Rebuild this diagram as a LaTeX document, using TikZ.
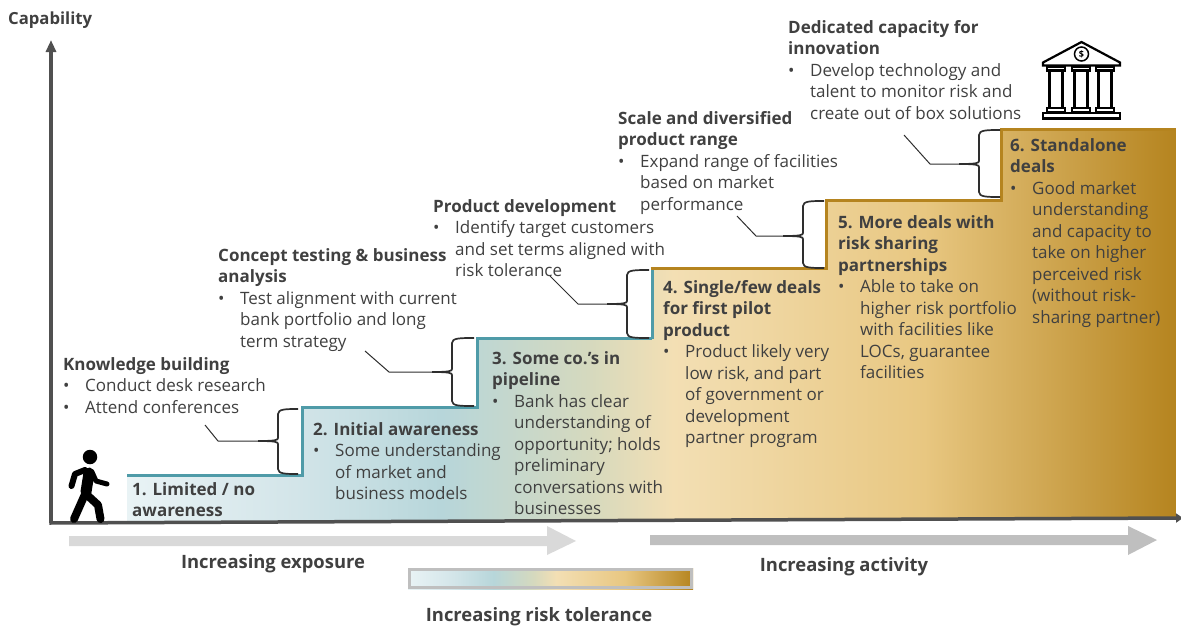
\documentclass[tikz,border=0pt]{standalone}
\usepackage{fontspec}
\setmainfont{Open Sans}
\usetikzlibrary{arrows.meta}
\definecolor{txt}{HTML}{404040}
\definecolor{linec}{HTML}{2E2E2E}
\definecolor{axisc}{HTML}{505050}
\definecolor{teal}{HTML}{4F9BA8}
\definecolor{gold}{HTML}{B5841F}
\definecolor{c0}{HTML}{E9F3F5}
\definecolor{c1}{HTML}{D3E5E9}
\definecolor{c2}{HTML}{B7D6DA}
\definecolor{c3}{HTML}{D5D9BE}
\definecolor{c4}{HTML}{F3DFB4}
\definecolor{c5}{HTML}{E8C781}
\definecolor{c6}{HTML}{B5841F}
\pgfdeclarehorizontalshading{stair}{100bp}{
 color(0bp)=(c0); color(25bp)=(c0); color(33bp)=(c1); color(40bp)=(c2); color(47bp)=(c3); color(51bp)=(c4); color(63bp)=(c5); color(75bp)=(c6); color(100bp)=(c6)}
\newcommand{\bl}{\makebox[22pt][l]{•}}
\newcommand{\bi}{\hspace*{22pt}}
\tikzset{
 x=1pt,y=-1pt,
 block/.style={anchor=north west,inner sep=0pt,align=left,text=txt,font=\fontsize{17}{21.5}\selectfont},
 title/.style={anchor=center,inner sep=0pt,text=txt,font=\fontsize{18.4}{20}\selectfont\bfseries},
 leader/.style={draw=linec,line width=1pt},
 bracepath/.style={draw=linec,line width=1.7pt},
 bracetip/.style={draw=linec,line width=2.8pt},
 limb/.style={draw=black,line cap=round,line join=round},
 bankline/.style={draw=black,line width=2.2pt,fill=white},
}
\newcommand{\bracef}[6]{% name xl xr yt ym yb
 \coordinate (#1tip) at (#2-20,#5);
 \draw[bracepath] (#3,#4) .. controls (#2+8,#4) and (#2,#4) .. (#2,#4+5) -- (#2,#5-3) .. controls (#2,#5-1) and (#2-2,#5) .. (#1tip);
 \draw[bracepath] (#3,#6) .. controls (#2+8,#6) and (#2,#6) .. (#2,#6-5) -- (#2,#5+3) .. controls (#2,#5+1) and (#2-2,#5) .. (#1tip);
 \draw[bracetip] (#1tip) -- (#2-6,#5);
}
\begin{document}
\begin{tikzpicture}
\useasboundingbox (0,0) rectangle (1181,627);
% stair fill
\path[shading=stair,shading angle=0] (127,474) -- (302,474) -- (302,407) -- (477,407) -- (477,338) -- (652,338) -- (652,268) -- (826,268) -- (826,200) -- (1001,200) -- (1001,129) -- (1176,129) -- (1176,519) -- (127,522) -- cycle;
% stair outlines
\draw[teal,line width=3pt] (127,475) -- (302,475) -- (302,407.5) -- (477,407.5) -- (477,338.5) -- (652,338.5);
\draw[teal,line width=3pt] (652,338.5) -- (652,268);
\draw[gold,line width=3pt] (650.5,268) -- (826,268) -- (826,200) -- (1001,200) -- (1001,129) -- (1176,129);
% axes
\coordinate (origin) at (51,523);
\coordinate (ytip) at (51,40);
\coordinate (xtip) at (1183,518);
\draw[axisc,line width=3.5pt,-{Triangle[width=10pt,length=12pt]}] (origin) -- (ytip);
\draw[axisc,line width=3.5pt,-{Triangle[width=9pt,length=7pt]}] (49.3,523) -- (xtip);
% gray arrows
\fill[black!15] (69,536) -- (547,536) -- (547,526) -- (576,541) -- (547,555) -- (547,546) -- (69,546) -- cycle;
\fill[black!25] (650,535) -- (1128,535) -- (1128,526) -- (1157,540) -- (1128,555) -- (1128,545) -- (650,545) -- cycle;
% mini bar
\path[shading=stair] (408,568) rectangle (693,589);
\draw[black!25,line width=3.5pt] (409.5,569.5) rectangle (691.5,587.5);
% braces
\bracef{b2}{278}{298}{409}{441}{474}
\bracef{b3}{452}{474}{338}{372}{406}
\bracef{b4}{627}{649}{270}{304}{338}
\bracef{b5}{803}{824}{201}{236}{268}
\bracef{b6}{979}{1000}{130}{164}{197}
% leaders
\coordinate (l2a) at (205,425); \coordinate (l2b) at (218,441);
\coordinate (l3a) at (365,351); \coordinate (l3b) at (389,372);
\coordinate (l4a) at (550,276); \coordinate (l4b) at (578,304);
\coordinate (l5a) at (737,216); \coordinate (l5b) at (756,236);
\coordinate (l6a) at (904,135); \coordinate (l6b) at (930,164);
\draw[leader] (l2a) -- (l2b) -- (b2tip);
\draw[leader] (l3a) -- (l3b) -- (b3tip);
\draw[leader] (l4a) -- (l4b) -- (b4tip);
\draw[leader] (l5a) -- (l5b) -- (b5tip);
\draw[leader] (l6a) -- (l6b) -- (b6tip);
% person
\node[circle,fill=black,minimum size=14.5pt,inner sep=0pt] (head) at (90,457) {};
\draw[limb,line width=11pt] (89,473) -- (86,492);
\draw[limb,line width=6pt] (85,470) -- (75,474) -- (71.5,486);
\draw[limb,line width=5pt] (92,472) -- (96,481) -- (107,484);
\draw[limb,line width=8pt] (86,492) -- (74,519);
\draw[limb,line width=8pt] (86,494) -- (98,505) -- (100.5,519);
% bank
\draw[bankline,line join=miter] (1043,62.5) -- (1081.5,42) -- (1120,62.5) -- (1120,65.5) -- (1043,65.5) -- cycle;
\node[circle,draw=black,line width=1.5pt,minimum size=14pt,inner sep=0pt,font=\fontsize{9}{9}\selectfont\bfseries] (coin) at (1081.5,54) {\$};
\foreach \c in {1056,1081,1105}{
 \draw[bankline] (\c-9,67) rectangle (\c+9,70.5);
 \draw[bankline] (\c-6.5,70.5) rectangle (\c+6.5,108);
 \draw[bankline] (\c-9,108) rectangle (\c+9,112.5);
}
\draw[bankline] (1043,113) rectangle (1120,118.5);
% text
\node[title,anchor=west,font=\fontsize{16.7}{18}\selectfont\bfseries] (cap) at (8,20) {Capability};
\node[block] (t6) at (788,20) {\textbf{Dedicated capacity for}\\\textbf{innovation}\\\bl Develop technology and\\\bi talent to monitor risk and\\\bi create out of box solutions};
\node[block] (t5) at (618,111) {\textbf{Scale and diversified}\\\textbf{product range}\\\bl Expand range of facilities\\\bi based on market\\\bi performance};
\node[block] (t4) at (433,199) {\textbf{Product development}\\\bl Identify target customers\\\bi and set terms aligned with\\\bi risk tolerance};
\node[block] (t3) at (218,248) {\textbf{Concept testing \& business}\\\textbf{analysis}\\\bl Test alignment with current\\\bi bank portfolio and long\\\bi term strategy};
\node[block] (t2) at (63,357) {\textbf{Knowledge building}\\\bl Conduct desk research\\\bl Attend conferences};
\node[block] (s1) at (132,482) {\textbf{1. Limited / no}\\\textbf{awareness}};
\node[block] (s2) at (313,422) {\textbf{2. Initial awareness}\\\bl Some understanding\\\bi of market and\\\bi business models};
\node[block] (s3) at (492,351) {\textbf{3. Some co.'s in}\\\textbf{pipeline}\\\bl Bank has clear\\\bi understanding of\\\bi opportunity; holds\\\bi preliminary\\\bi conversations with\\\bi businesses};
\node[block] (s4) at (663,280) {\textbf{4. Single/few deals}\\\textbf{for first pilot}\\\textbf{product}\\\bl Product likely very\\\bi low risk, and part\\\bi of government or\\\bi development\\\bi partner program};
\node[block] (s5) at (838,215) {\textbf{5. More deals with}\\\textbf{risk sharing}\\\textbf{partnerships}\\\bl Able to take on\\\bi higher risk portfolio\\\bi with facilities like\\\bi LOCs, guarantee\\\bi facilities};
\node[block] (s6) at (1010,138) {\textbf{6. Standalone}\\\textbf{deals}\\\bl Good market\\\bi understanding\\\bi and capacity to\\\bi take on higher\\\bi perceived risk\\\bi (without risk-\\\bi sharing partner)};
\node[title] (e1) at (273,564) {Increasing exposure};
\node[title] (e2) at (844,567) {Increasing activity};
\node[title] (e3) at (539,617) {Increasing risk tolerance};
\end{tikzpicture}
\end{document}
